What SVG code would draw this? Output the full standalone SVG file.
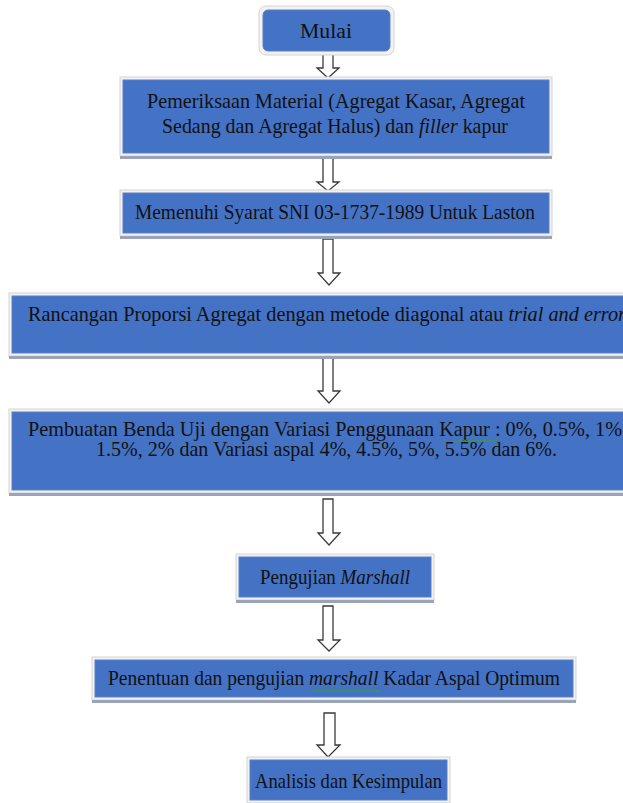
<svg xmlns="http://www.w3.org/2000/svg" width="623" height="803" viewBox="0 0 623 803">
<style>
.frame{fill:#f2f2f2;stroke:#d4d4d4;stroke-width:1}
.shadow{fill:#9aa4b8}
.box{fill:#4472c4;stroke:#5a80c8;stroke-width:1}
.t{font-family:"Liberation Serif","Times New Roman",serif;font-size:21px;fill:#111}
.i{font-style:italic}
.arrow{fill:#fff;stroke:#3a3a3a;stroke-width:1.3;stroke-linejoin:miter}
.squig{fill:none;stroke:#3aa03a;stroke-width:1}
</style>
<rect width="623" height="803" fill="#fff"/>
<g id="connectors">
<path class="arrow" d="M323,52 L333,52 L333,68 L339,68 L328,78 L317,68 L323,68 Z"/>
<path class="arrow" d="M323,157 L333,157 L333,182 L339,182 L328,191 L317,182 L323,182 Z"/>
<path class="arrow" d="M323,239 L333,239 L333,273 L340,273 L329,285 L318,273 L323,273 Z"/>
<path class="arrow" d="M323,357 L333,357 L333,391 L340,391 L329,403 L318,391 L323,391 Z"/>
<path class="arrow" d="M323,499 L333,499 L333,533 L340,533 L329,545 L318,533 L323,533 Z"/>
<path class="arrow" d="M323,606 L333,606 L333,640 L340,640 L329,651 L318,640 L323,640 Z"/>
<path class="arrow" d="M324,713 L335,713 L335,745 L340,745 L328,757 L317,745 L324,745 Z"/>
</g>
<g id="n1">
<rect class="frame" x="259" y="6" width="135" height="49" rx="7"/>
<rect class="box" x="263" y="10" width="127" height="41" rx="5"/>
<text class="t" x="300" y="38" textLength="52" lengthAdjust="spacingAndGlyphs">Mulai</text>
</g>
<g id="n2">
<rect class="frame" x="120" y="77" width="432" height="79"/>
<rect class="shadow" x="120" y="156" width="432" height="3"/>
<rect class="box" x="123" y="80" width="426" height="73"/>
<text class="t" x="147" y="108" textLength="378" lengthAdjust="spacingAndGlyphs">Pemeriksaan Material (Agregat Kasar, Agregat</text>
<text class="t" x="162" y="133" textLength="346" lengthAdjust="spacingAndGlyphs">Sedang dan Agregat Halus) dan <tspan class="i">filler</tspan> kapur</text>
</g>
<g id="n3">
<rect class="frame" x="120" y="190" width="432" height="46"/>
<rect class="shadow" x="120" y="236" width="432" height="3"/>
<rect class="box" x="123" y="193" width="426" height="40"/>
<text class="t" x="135" y="219" textLength="400" lengthAdjust="spacingAndGlyphs">Memenuhi Syarat SNI 03-1737-1989 Untuk Laston</text>
</g>
<g id="n4">
<rect class="frame" x="9" y="293" width="620" height="63"/>
<rect class="shadow" x="9" y="356" width="620" height="3"/>
<rect class="box" x="12" y="296" width="620" height="57"/>
<text class="t" x="28" y="321" textLength="598" lengthAdjust="spacingAndGlyphs">Rancangan Proporsi Agregat dengan metode diagonal atau <tspan class="i">trial and error</tspan></text>
</g>
<g id="n5">
<rect class="frame" x="9" y="409" width="620" height="84"/>
<rect class="shadow" x="9" y="493" width="620" height="3"/>
<rect class="box" x="12" y="412" width="620" height="78"/>
<text class="t" x="28" y="436" textLength="594" lengthAdjust="spacingAndGlyphs">Pembuatan Benda Uji dengan Variasi Penggunaan Kapur : 0%, 0.5%, 1%</text>
<text class="t" x="96" y="456" textLength="461" lengthAdjust="spacingAndGlyphs">1.5%, 2% dan Variasi aspal 4%, 4.5%, 5%, 5.5% dan 6%.</text>
<path class="squig" d="M453,440 l2,1.5 l2,-1.5 l2,1.5 l2,-1.5 l2,1.5 l2,-1.5 l2,1.5 l2,-1.5 l2,1.5 l2,-1.5 l2,1.5 l2,-1.5 l2,1.5 l2,-1.5 l2,1.5 l2,-1.5 l2,1.5 l2,-1.5 l2,1.5 l2,-1.5 l2,1.5 l2,-1.5"/>
</g>
<g id="n6">
<rect class="frame" x="236" y="554" width="198" height="46"/>
<rect class="shadow" x="236" y="600" width="198" height="3"/>
<rect class="box" x="239" y="557" width="192" height="40"/>
<text class="t" x="260" y="584" textLength="150" lengthAdjust="spacingAndGlyphs">Pengujian <tspan class="i">Marshall</tspan></text>
</g>
<g id="n7">
<rect class="frame" x="92" y="657" width="484" height="43"/>
<rect class="shadow" x="92" y="700" width="484" height="3"/>
<rect class="box" x="95" y="660" width="478" height="37"/>
<text class="t" x="108" y="685" textLength="452" lengthAdjust="spacingAndGlyphs">Penentuan dan pengujian <tspan class="i">marshall</tspan> Kadar Aspal Optimum</text>
<path class="squig" d="M311,690 l2,1.5 l2,-1.5 l2,1.5 l2,-1.5 l2,1.5 l2,-1.5 l2,1.5 l2,-1.5 l2,1.5 l2,-1.5 l2,1.5 l2,-1.5 l2,1.5 l2,-1.5 l2,1.5 l2,-1.5 l2,1.5 l2,-1.5 l2,1.5 l2,-1.5 l2,1.5 l2,-1.5 l2,1.5 l2,-1.5 l2,1.5 l2,-1.5 l2,1.5 l2,-1.5 l2,1.5 l2,-1.5 l2,1.5 l2,-1.5 l2,1.5 l2,-1.5"/>
</g>
<g id="n8">
<rect class="frame" x="247" y="757" width="203" height="46"/>
<rect class="box" x="250" y="760" width="197" height="40"/>
<text class="t" x="255" y="788" textLength="187" lengthAdjust="spacingAndGlyphs">Analisis dan Kesimpulan</text>
</g>
</svg>
